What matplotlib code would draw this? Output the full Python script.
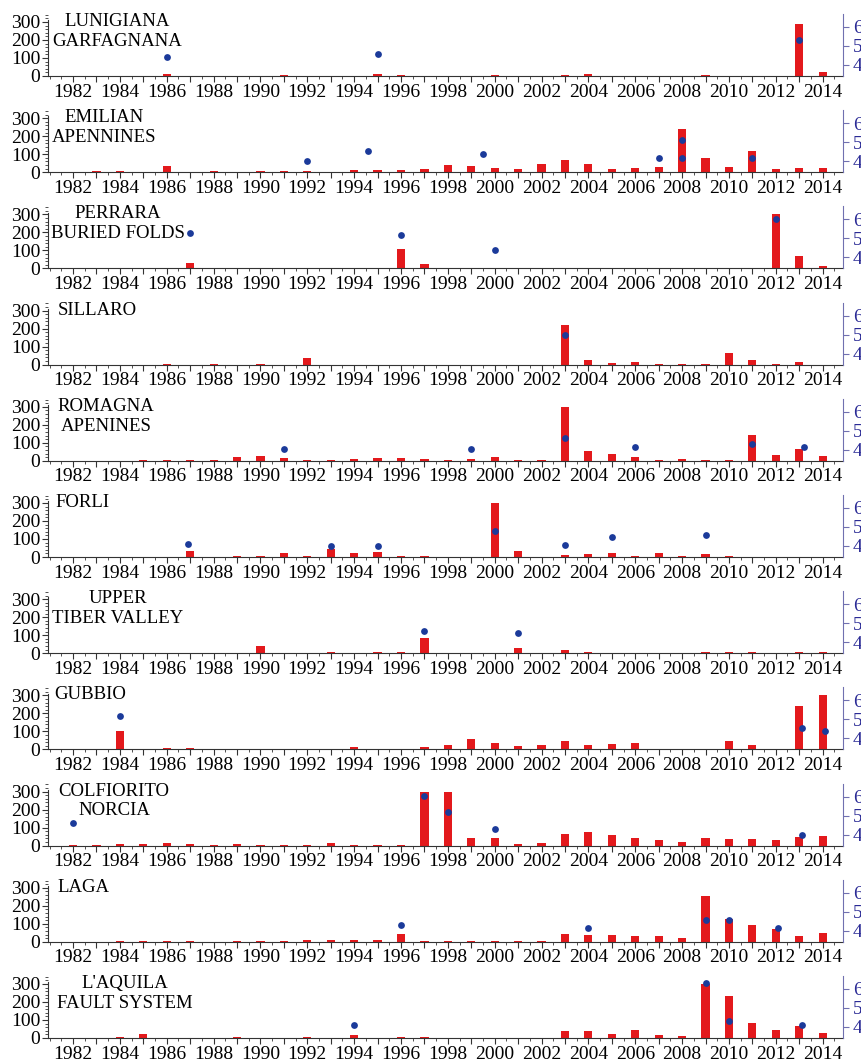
import numpy as np
import matplotlib.pyplot as plt
from matplotlib.ticker import MultipleLocator

plt.rcParams['font.family'] = ['Liberation Serif', 'DejaVu Serif']

years = np.arange(1982, 2015)

# yearly event counts (left axis), 1982..2014
lunigiana_counts = [0, 0, 0, 0, 10, 0, 0, 0, 0, 3, 0, 0, 0, 10, 3, 0, 0, 0, 4, 0, 0, 3, 12, 0, 2, 0, 0, 3, 0, 0, 0, 290, 20]
emilian_counts = [0, 5, 5, 2, 37, 0, 5, 3, 4, 5, 4, 2, 10, 12, 12, 18, 41, 33, 22, 15, 46, 69, 48, 18, 26, 30, 240, 80, 30, 117, 18, 26, 22]
ferrara_counts = [0, 0, 0, 0, 0, 30, 0, 0, 0, 0, 0, 0, 0, 0, 107, 24, 3, 2, 0, 2, 0, 0, 3, 0, 0, 2, 3, 3, 0, 0, 300, 67, 15]
sillaro_counts = [0, 0, 0, 0, 2, 0, 3, 0, 2, 0, 35, 0, 0, 0, 0, 0, 0, 0, 0, 0, 0, 218, 28, 8, 15, 5, 3, 5, 63, 24, 3, 12, 0]
romagna_counts = [0, 0, 0, 3, 3, 5, 3, 20, 28, 13, 4, 3, 10, 17, 17, 12, 5, 8, 19, 2, 6, 300, 57, 35, 22, 4, 8, 3, 3, 144, 30, 65, 24]
forli_counts = [0, 0, 0, 0, 2, 33, 0, 4, 3, 20, 3, 46, 20, 28, 5, 8, 2, 2, 300, 33, 0, 11, 19, 20, 8, 20, 3, 19, 8, 0, 2, 2, 0]
tiber_counts = [0, 0, 0, 0, 0, 0, 0, 2, 39, 0, 0, 5, 2, 4, 5, 83, 3, 3, 0, 28, 2, 18, 4, 0, 0, 0, 0, 5, 5, 4, 0, 4, 8]
gubbio_counts = [0, 0, 100, 3, 7, 5, 0, 0, 0, 0, 0, 0, 15, 0, 0, 15, 24, 56, 37, 19, 22, 46, 22, 28, 37, 3, 0, 0, 46, 22, 0, 240, 300]
colfiorito_counts = [5, 3, 8, 10, 12, 10, 4, 8, 3, 6, 6, 14, 5, 2, 2, 300, 300, 43, 41, 11, 15, 67, 78, 59, 41, 30, 22, 44, 37, 37, 33, 48, 56]
laga_counts = [0, 0, 3, 2, 3, 3, 0, 3, 2, 6, 8, 10, 8, 8, 41, 6, 2, 3, 3, 3, 2, 41, 37, 37, 33, 33, 22, 256, 126, 93, 70, 33, 48]
aquila_counts = [0, 2, 3, 24, 2, 0, 0, 3, 2, 2, 3, 0, 19, 0, 3, 6, 2, 2, 2, 2, 2, 37, 37, 20, 43, 19, 11, 300, 233, 85, 43, 67, 28]

# main shocks (right axis): time and magnitude
lunigiana_eq_t = [1986.0, 1995.0, 2013.0]
lunigiana_eq_m = [4.4, 4.6, 5.33]
emilian_eq_t = [1992.0, 1994.6, 1999.5, 2007.0, 2008.0, 2008.0, 2011.0]
emilian_eq_m = [4.02, 4.51, 4.37, 4.16, 4.16, 5.1, 4.16]
ferrara_eq_t = [1987.0, 1996.0, 2000.0, 2012.0]
ferrara_eq_m = [5.3, 5.17, 4.4, 6.0]
sillaro_eq_t = [2003.0]
sillaro_eq_m = [5.0]
romagna_eq_t = [1991.0, 1999.0, 2003.0, 2006.0, 2011.0, 2013.2]
romagna_eq_m = [4.04, 4.05, 4.6, 4.14, 4.32, 4.14]
forli_eq_t = [1986.9, 1993.0, 1995.0, 2000.0, 2003.0, 2005.0, 2009.0]
forli_eq_m = [4.09, 4.0, 4.0, 4.8, 4.05, 4.46, 4.6]
tiber_eq_t = [1997.0, 2001.0]
tiber_eq_m = [4.58, 4.5]
gubbio_eq_t = [1984.0, 2013.1, 2014.1]
gubbio_eq_m = [5.17, 4.54, 4.4]
colfiorito_eq_t = [1982.0, 1997.0, 1998.0, 2000.0, 2013.1]
colfiorito_eq_m = [4.6, 6.05, 5.17, 4.3, 3.98]
laga_eq_t = [1996.0, 2004.0, 2009.0, 2010.0, 2012.1]
laga_eq_m = [4.3, 4.12, 4.56, 4.56, 4.16]
aquila_eq_t = [1994.0, 2009.0, 2010.0, 2013.1]
aquila_eq_m = [4.09, 6.3, 4.3, 4.12]

region_names = [["LUNIGIANA", "GARFAGNANA"], ["EMILIAN", "APENNINES"],
                ["PERRARA", "BURIED FOLDS"], ["SILLARO"], ["ROMAGNA", "APENINES"],
                ["FORLI"], ["UPPER", "TIBER VALLEY"], ["GUBBIO"],
                ["COLFIORITO", "NORCIA"], ["LAGA"], ["L'AQUILA", "FAULT SYSTEM"]]
label_x_px = [117, 104, 118, 97, 106, 83, 118, 90, 114, 83, 125]

panels = [
    (lunigiana_counts, lunigiana_eq_t, lunigiana_eq_m),
    (emilian_counts, emilian_eq_t, emilian_eq_m),
    (ferrara_counts, ferrara_eq_t, ferrara_eq_m),
    (sillaro_counts, sillaro_eq_t, sillaro_eq_m),
    (romagna_counts, romagna_eq_t, romagna_eq_m),
    (forli_counts, forli_eq_t, forli_eq_m),
    (tiber_counts, tiber_eq_t, tiber_eq_m),
    (gubbio_counts, gubbio_eq_t, gubbio_eq_m),
    (colfiorito_counts, colfiorito_eq_t, colfiorito_eq_m),
    (laga_counts, laga_eq_t, laga_eq_m),
    (aquila_counts, aquila_eq_t, aquila_eq_m),
]

W, H = 862, 1061
left_px, right_px, ax_h = 48, 843, 62
fig = plt.figure(figsize=(W / 100, H / 100), dpi=100)

for i, (counts, eq_t, eq_m) in enumerate(panels):
    y0 = 76 + 96.2 * i
    ax = fig.add_axes([left_px / W, 1 - y0 / H, (right_px - left_px) / W, ax_h / H])
    ax.bar(years, counts, width=0.35, color="#e3191c", zorder=2)
    ax.set_xlim(1980.93, 2014.87)
    ax.set_ylim(0, 344)
    ax.set_yticks([0, 100, 200, 300])
    ax.yaxis.set_minor_locator(MultipleLocator(20))
    ax.set_xticks(years)
    ax.set_xticklabels([str(y) if y % 2 == 0 else "" for y in years])
    ax.xaxis.set_minor_locator(MultipleLocator(0.5))
    for s in ["top", "right"]:
        ax.spines[s].set_visible(False)
    ax.spines["left"].set_bounds(0, 310)
    ax.spines["left"].set_color("#333333")
    ax.spines["bottom"].set_color("#333333")
    ax.tick_params(axis="both", which="major", labelsize=14, length=4,
                   color="#333333", pad=1.5)
    ax.tick_params(axis="both", which="minor", length=2, color="#333333")
    ax.patch.set_visible(False)

    for k, line in enumerate(region_names[i]):
        ax.text((label_x_px[i] - left_px) / (right_px - left_px), 0.88 - 0.32 * k,
                line, transform=ax.transAxes, ha="center", va="center",
                fontsize=13.5)

    ax2 = ax.twinx()
    ax2.scatter(eq_t, eq_m, s=24, color="#1b3a9a", zorder=3, linewidths=0)
    ax2.set_ylim(3.42, 6.68)
    ax2.set_yticks([4, 5, 6])
    for s in ["top", "left", "bottom"]:
        ax2.spines[s].set_visible(False)
    ax2.spines["right"].set_color("#7070b0")
    ax2.tick_params(axis="y", labelsize=14, length=4, color="#7070b0",
                    labelcolor="#2a2a95", pad=3)

fig.savefig("out.png", dpi=100)
